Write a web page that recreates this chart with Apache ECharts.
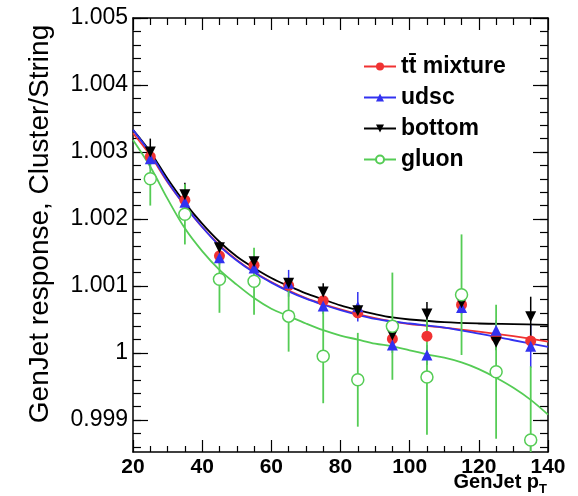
<!DOCTYPE html>
<html><head><meta charset="utf-8">
<script src="https://cdn.jsdelivr.net/npm/echarts@6/dist/echarts.min.js"></script>
<style>html,body{margin:0;padding:0;background:#fff}#c{width:578px;height:496px}</style>
</head><body><div id="c"></div>
<script>
// ---- data ----
const xPts = [25, 35, 45, 55, 65, 75, 85, 95, 105, 115, 125, 135];
const ttVals    = [1.00293, 1.00228, 1.00145, 1.00131, 1.00101, 1.00078, 1.00060, 1.00021, 1.00025, 1.00072, 1.00024, 1.00018];
const ttErr     = [0.00008, 0.00008, 0.00008, 0.00008, 0.00008, 0.00008, 0.00008, 0.00008, 0.00008, 0.00008, 0.00008, 0.00008];
const udscVals  = [1.00290, 1.00225, 1.00142, 1.00127, 1.00104, 1.00070, 1.00069, 1.00012, 0.99997, 1.00068, 1.00034, 1.00010];
const udscErr   = [0.00015, 0.00015, 0.00010, 0.00010, 0.00020, 0.00012, 0.00022, 0.00012, 0.00015, 0.00010, 0.00015, 0.00032];
const bottomVals= [1.00300, 1.00236, 1.00157, 1.00136, 1.00104, 1.00091, 1.00063, 1.00027, 1.00058, 1.00075, 1.00016, 1.00054];
const bottomErr = [0.00020, 0.00018, 0.00010, 0.00008, 0.00008, 0.00013, 0.00010, 0.00012, 0.00018, 0.00010, 0.00012, 0.00030];
const gluonVals = [1.00260, 1.00207, 1.00110, 1.00107, 1.00055, 0.99995, 0.99960, 1.00040, 0.99964, 1.00087, 0.99972, 0.99870];
const gluonErr  = [0.00040, 0.00045, 0.00050, 0.00050, 0.00053, 0.00070, 0.00070, 0.00080, 0.00086, 0.00090, 0.00100, 0.00110];

// fit curves
const fitX      = [20, 25, 30, 35, 40, 45, 50, 55, 60, 65, 70, 75, 80, 85, 90, 95, 100, 110, 120, 130, 140];
const fitTT     = [1.00328, 1.00295, 1.00255, 1.00220, 1.00188, 1.00161, 1.00139, 1.00121, 1.00106, 1.00093, 1.00082, 1.00073, 1.00065, 1.00058, 1.00052, 1.00047, 1.00043, 1.00038, 1.00032, 1.00025, 1.00017];
const fitUdsc   = [1.00333, 1.00298, 1.00256, 1.00220, 1.00188, 1.00160, 1.00138, 1.00120, 1.00105, 1.00092, 1.00081, 1.00072, 1.00064, 1.00057, 1.00051, 1.00047, 1.00044, 1.00038, 1.00029, 1.00019, 1.00009];
const fitBottom = [1.00333, 1.00300, 1.00260, 1.00224, 1.00193, 1.00166, 1.00144, 1.00127, 1.00112, 1.00100, 1.00089, 1.00080, 1.00071, 1.00064, 1.00058, 1.00053, 1.00050, 1.00046, 1.00044, 1.00043, 1.00042];
const fitGluonX = [20, 25, 30, 35, 40, 45, 50, 55, 60, 65, 70, 75, 80, 85, 90, 95, 100, 105, 110, 115, 120, 125, 130, 135, 140];
const fitGluon  = [1.00318, 1.00278, 1.00230, 1.00186, 1.00152, 1.00124, 1.00102, 1.00082, 1.00066, 1.00055, 1.00044, 1.00034, 1.00026, 1.00020, 1.00014, 1.00010, 1.00004, 0.99998, 0.99993, 0.99986, 0.99976, 0.99963, 0.99948, 0.99930, 0.99908];

const names = ['tt\u0304 mixture', 'udsc', 'bottom', 'gluon'];
const yMajor = [0.999, 1.000, 1.001, 1.002, 1.003, 1.004, 1.005];
const yMajorLabels = ['0.999', '1', '1.001', '1.002', '1.003', '1.004', '1.005'];
const yMinor = [0.9986, 0.9988, 0.9990, 0.9992, 0.9994, 0.9996, 0.9998, 1.0000, 1.0002, 1.0004, 1.0006, 1.0008, 1.0010, 1.0012, 1.0014, 1.0016, 1.0018, 1.0020, 1.0022, 1.0024, 1.0026, 1.0028, 1.0030, 1.0032, 1.0034, 1.0036, 1.0038, 1.0040, 1.0042, 1.0044, 1.0046, 1.0048, 1.0050];

const C_RED = '#f03232', C_BLUE = '#3232f0', C_BLACK = '#000000', C_GREEN = '#55cc55';
const YMIN = 0.998522, YMAX = 1.005;

function pairs(xs, ys) { return xs.map((x, i) => [x, ys[i]]); }
function triples(xs, ys, es) { return xs.map((x, i) => [x, ys[i], es[i]]); }

function errSeries(xs, ys, es, color, w) {
  return {
    type: 'custom', silent: true, z: 3,
    data: triples(xs, ys, es),
    renderItem: function (params, api) {
      const x = api.value(0), y = api.value(1), e = api.value(2);
      const p1 = api.coord([x, y - e]), p2 = api.coord([x, y + e]);
      const cs = params.coordSys;
      const clamp = v => Math.min(Math.max(v, cs.y), cs.y + cs.height);
      return { type: 'line', shape: { x1: p1[0], y1: clamp(p1[1]), x2: p2[0], y2: clamp(p2[1]) },
               style: { stroke: color, lineWidth: w } };
    }
  };
}
function fitSeries(name, xs, ys, color, symbol, rot) {
  return {
    type: 'line', name: name, data: pairs(xs, ys), smooth: 0.35, showSymbol: false,
    symbol: symbol, symbolRotate: rot || 0, z: 2, silent: true,
    lineStyle: { color: color, width: 1.8 }, itemStyle: { color: color }
  };
}
function ptSeries(name, xs, ys, color, symbol, size, rot, border) {
  return {
    type: 'scatter', name: name, data: pairs(xs, ys), symbol: symbol, symbolSize: size,
    symbolRotate: rot || 0, z: 4, silent: true,
    itemStyle: border ? { color: '#fff', borderColor: color, borderWidth: 1.5, opacity: 1 } : { color: color, opacity: 1 }
  };
}

const axisFont = 'Liberation Sans, Arial, sans-serif';
const lineBlack = { show: true, lineStyle: { color: '#000', width: 1.5 } };

const option = {
  animation: false,
  backgroundColor: '#fff',
  grid: { left: 133, right: 30, top: 18, bottom: 44, containLabel: false },
  xAxis: [
    { type: 'value', min: 20, max: 140, interval: 20, position: 'bottom',
      axisLine: lineBlack,
      axisTick: { inside: true, length: 12, lineStyle: { color: '#000', width: 1.2 } },
      minorTick: { show: true, splitNumber: 4, length: 6, lineStyle: { color: '#000', width: 1.2 } },
      axisLabel: { color: '#000', fontFamily: axisFont, fontSize: 21, fontWeight: 'bold', margin: 5 },
      splitLine: { show: false } },
    { type: 'value', min: 20, max: 140, interval: 20, position: 'top',
      axisLine: lineBlack,
      axisTick: { inside: true, length: 12, lineStyle: { color: '#000', width: 1.2 } },
      minorTick: { show: true, splitNumber: 4, length: 7, lineStyle: { color: '#000', width: 1.2 } },
      axisLabel: { show: false }, splitLine: { show: false } }
  ],
  yAxis: [
    { type: 'value', min: YMIN, max: YMAX, position: 'left',
      axisLine: lineBlack,
      axisTick: { inside: true, length: 15, customValues: yMajor, lineStyle: { color: '#000', width: 1.2 } },
      axisLabel: { customValues: yMajor, color: '#000', fontFamily: axisFont, fontSize: 23, margin: 5,
        formatter: v => { const i = yMajor.findIndex(m => Math.abs(m - v) < 1e-7); return i >= 0 ? yMajorLabels[i] : ''; } },
      splitLine: { show: false } },
    { type: 'value', min: YMIN, max: YMAX, position: 'left',
      axisLine: { show: false },
      axisTick: { inside: true, length: 8, customValues: yMinor, lineStyle: { color: '#000', width: 1.2 } },
      axisLabel: { show: false }, splitLine: { show: false } },
    { type: 'value', min: YMIN, max: YMAX, position: 'right',
      axisLine: lineBlack,
      axisTick: { inside: true, length: 15, customValues: yMajor, lineStyle: { color: '#000', width: 1.2 } },
      axisLabel: { show: false }, splitLine: { show: false } },
    { type: 'value', min: YMIN, max: YMAX, position: 'right',
      axisLine: { show: false },
      axisTick: { inside: true, length: 8, customValues: yMinor, lineStyle: { color: '#000', width: 1.2 } },
      axisLabel: { show: false }, splitLine: { show: false } }
  ],
  legend: {
    data: names, orient: 'vertical', left: 358, top: 50, itemWidth: 32, itemHeight: 10, itemGap: 8,
    selectedMode: false,
    textStyle: { color: '#000', fontFamily: axisFont, fontSize: 23, fontWeight: 'bold' }
  },
  title: {
    right: 26, top: 464, padding: 5,
    text: '{a|GenJet p}{b|T}',
    textStyle: { rich: {
      a: { fontFamily: axisFont, fontSize: 20, fontWeight: 'bold', color: '#000' },
      b: { fontFamily: axisFont, fontSize: 13, fontWeight: 'bold', color: '#000', padding: [14, 0, 0, 0] }
    } }
  },
  graphic: [
    { type: 'text', x: 40, y: 224, rotation: Math.PI / 2,
      style: { text: 'GenJet response, Cluster/String', fontFamily: axisFont, fontSize: 28,
        fill: '#000', align: 'center', verticalAlign: 'middle' } }
  ],
  series: [
    fitSeries(names[3], fitGluonX, fitGluon, C_GREEN, 'emptyCircle'),
    fitSeries(names[2], fitX, fitBottom, C_BLACK, 'triangle', 180),
    fitSeries(names[0], fitX, fitTT, C_RED, 'circle'),
    fitSeries(names[1], fitX, fitUdsc, C_BLUE, 'triangle'),
    errSeries(xPts, ttVals, ttErr, C_RED, 1.5),
    errSeries(xPts, udscVals, udscErr, C_BLUE, 1.5),
    errSeries(xPts, bottomVals, bottomErr, C_BLACK, 1.5),
    errSeries(xPts, gluonVals, gluonErr, C_GREEN, 1.8),
    ptSeries(names[0], xPts, ttVals, C_RED, 'circle', 11),
    ptSeries(names[1], xPts, udscVals, C_BLUE, 'triangle', 11),
    ptSeries(names[2], xPts, bottomVals, C_BLACK, 'triangle', 11, 180),
    ptSeries(names[3], xPts, gluonVals, C_GREEN, 'circle', 12, 0, true)
  ]
};
const chart = echarts.init(document.getElementById('c'), null, { renderer: 'canvas' });
chart.setOption(option);
</script>
</body></html>
